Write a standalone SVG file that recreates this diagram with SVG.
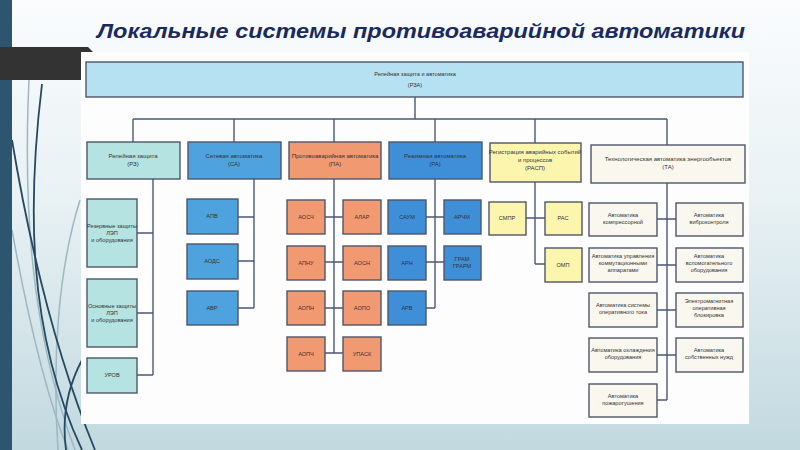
<svg xmlns="http://www.w3.org/2000/svg" width="800" height="450" viewBox="0 0 800 450">
<defs>
<linearGradient id="bg" x1="0" y1="0" x2="0" y2="1">
<stop offset="0" stop-color="#fafcfd"/>
<stop offset="0.45" stop-color="#e8f1f4"/>
<stop offset="1" stop-color="#c2d9e0"/>
</linearGradient>
<style>
.box{stroke:#4d566a;stroke-width:1.4}
.top{fill:#b6e1f2}
.rz{fill:#b4e3e2}
.sa{fill:#4ea2dd}
.pa{fill:#f19a72}
.ra{fill:#3f8fd8}
.rasp{fill:#fcf5ae}
.ta{fill:#faf7ef}
.t{font-family:"Liberation Sans",Arial,sans-serif;font-size:5.6px;fill:#333;text-anchor:middle}
.th{font-family:"Liberation Sans",Arial,sans-serif;font-size:6px;fill:#333;text-anchor:middle}
.con{fill:none;stroke:#4a5878;stroke-width:1.4}
.deco{fill:none;stroke:#244a63;stroke-width:1.8}
.decol{fill:none;stroke:#9db7c3;stroke-width:1.5}
</style>
</defs>
<rect x="0" y="0" width="800" height="450" fill="url(#bg)"/>
<g id="decoration">
<path class="decol" d="M12,230 C30,330 48,400 68,450"/>
<path class="decol" d="M80,200 C58,270 52,360 58,450"/>
<path class="decol" d="M30,60 C22,200 30,330 75,450"/>
<path class="deco" d="M12,140 C32,260 58,360 95,450"/>
<path class="deco" d="M42,84 C28,200 26,330 82,450" stroke-width="1.2"/>
<path class="deco" d="M82,360 C66,390 62,420 66,450"/>
<rect x="0" y="0" width="12" height="450" fill="#2d5570"/>
<path d="M0,47 H88 L93,52 V80 H0 Z" fill="#333333"/>
</g>
<rect x="81" y="52" width="668" height="372" fill="#fdfdfe"/>
<text x="97" y="38" font-family="Liberation Sans,Arial,sans-serif" font-size="21" font-weight="bold" font-style="italic" fill="#1b2a5e" textLength="648" lengthAdjust="spacingAndGlyphs">Локальные системы противоаварийной автоматики</text>
<g id="connectors">
<path class="con" d="M415,97 V119 M133,119 H667 M133,119 V142 M234,119 V142 M334,119 V142 M435,119 V142 M535,119 V143 M667,119 V145"/>
<path class="con" d="M153,179 V375 M137,233 H153 M137,313 H153 M137,375 H153"/>
<path class="con" d="M254,179 V308 M238,217 H254 M238,261 H254 M238,308 H254"/>
<path class="con" d="M334,179 V353 M325,217 H343 M325,262 H343 M325,308 H343 M325,353 H343"/>
<path class="con" d="M435,179 V308 M426,217 H444 M426,262 H444 M426,308 H435"/>
<path class="con" d="M535,182 V264 M526,218 H545 M535,264 H545"/>
<path class="con" d="M667,183 V400 M657,219 H676 M657,265 H676 M657,310 H676 M657,355 H676 M657,400 H667"/>
</g>
<g id="rza"><rect class="box top" x="86" y="62" width="657" height="35"/><text class="t" font-size="7" x="415" y="76">Релейная защита и автоматика</text><text class="t" font-size="7" x="415" y="87">(РЗА)</text></g>
<g id="rz"><rect class="box rz" x="87" y="142" width="93" height="37"/><text class="th" x="133" y="158">Релейная защита</text><text class="th" x="133" y="166">(РЗ)</text></g>
<g id="sa"><rect class="box sa" x="188" y="142" width="93" height="37"/><text class="th" x="234" y="158">Сетевая автоматика</text><text class="th" x="234" y="166">(СА)</text></g>
<g id="pa"><rect class="box pa" x="289" y="142" width="92" height="37"/><text class="th" x="335" y="158">Противоаварийная автоматика</text><text class="th" x="335" y="166">(ПА)</text></g>
<g id="ra"><rect class="box ra" x="389" y="142" width="93" height="37"/><text class="th" x="435" y="158">Режимная автоматика</text><text class="th" x="435" y="166">(РА)</text></g>
<g id="rasp"><rect class="box rasp" x="490" y="143" width="91" height="39"/><text class="th" x="535" y="154">Регистрация аварийных событий</text><text class="th" x="535" y="162">и процессов</text><text class="th" x="535" y="170">(РАСП)</text></g>
<g id="ta"><rect class="box ta" x="591" y="145" width="154" height="38"/><text class="th" x="668" y="161">Технологическая автоматика энергообъектов</text><text class="th" x="668" y="169">(ТА)</text></g>
<g id="rz1"><rect class="box rz" x="87" y="199" width="50" height="68"/><text class="t" x="112" y="228">Резервные защиты</text><text class="t" x="112" y="235">ЛЭП</text><text class="t" x="112" y="242">и оборудования</text></g>
<g id="rz2"><rect class="box rz" x="87" y="279" width="50" height="68"/><text class="t" x="112" y="308">Основные защиты</text><text class="t" x="112" y="315">ЛЭП</text><text class="t" x="112" y="322">и оборудования</text></g>
<g id="rz3"><rect class="box rz" x="87" y="358" width="50" height="35"/><text class="t" x="112" y="377">УРОВ</text></g>
<g id="sa1"><rect class="box sa" x="187" y="199" width="51" height="35"/><text class="t" x="212" y="218">АПВ</text></g>
<g id="sa2"><rect class="box sa" x="187" y="244" width="51" height="35"/><text class="t" x="212" y="263">АОДС</text></g>
<g id="sa3"><rect class="box sa" x="187" y="291" width="51" height="34"/><text class="t" x="212" y="310">АВР</text></g>
<g id="pa1"><rect class="box pa" x="287" y="200" width="38" height="34"/><text class="t" x="306" y="219">АОСЧ</text></g>
<g id="pa2"><rect class="box pa" x="343" y="200" width="38" height="34"/><text class="t" x="362" y="219">АЛАР</text></g>
<g id="pa3"><rect class="box pa" x="287" y="246" width="38" height="34"/><text class="t" x="306" y="265">АПНУ</text></g>
<g id="pa4"><rect class="box pa" x="343" y="246" width="38" height="34"/><text class="t" x="362" y="265">АОСН</text></g>
<g id="pa5"><rect class="box pa" x="287" y="291" width="38" height="34"/><text class="t" x="306" y="310">АОПН</text></g>
<g id="pa6"><rect class="box pa" x="343" y="291" width="38" height="34"/><text class="t" x="362" y="310">АОПО</text></g>
<g id="pa7"><rect class="box pa" x="287" y="337" width="38" height="34"/><text class="t" x="306" y="356">АОПЧ</text></g>
<g id="pa8"><rect class="box pa" x="343" y="337" width="38" height="34"/><text class="t" x="362" y="356">УПАСК</text></g>
<g id="ra1"><rect class="box ra" x="388" y="200" width="38" height="34"/><text class="t" x="407" y="219">САУМ</text></g>
<g id="ra2"><rect class="box ra" x="444" y="200" width="37" height="34"/><text class="t" x="462" y="219">АРЧМ</text></g>
<g id="ra3"><rect class="box ra" x="388" y="246" width="38" height="34"/><text class="t" x="407" y="265">АРН</text></g>
<g id="ra4"><rect class="box ra" x="444" y="246" width="37" height="34"/><text class="t" x="462" y="261">ГРАМ</text><text class="t" x="462" y="268">ГРАРМ</text></g>
<g id="ra5"><rect class="box ra" x="388" y="291" width="38" height="34"/><text class="t" x="407" y="310">АРВ</text></g>
<g id="rasp1"><rect class="box rasp" x="489" y="202" width="37" height="33"/><text class="t" x="507" y="220">СМПР</text></g>
<g id="rasp2"><rect class="box rasp" x="545" y="202" width="37" height="33"/><text class="t" x="563" y="220">РАС</text></g>
<g id="rasp3"><rect class="box rasp" x="545" y="248" width="37" height="34"/><text class="t" x="563" y="267">ОМП</text></g>
<g id="ta1"><rect class="box ta" x="589" y="203" width="68" height="33"/><text class="t" x="623" y="217">Автоматика</text><text class="t" x="623" y="224">компрессорной</text></g>
<g id="ta2"><rect class="box ta" x="676" y="203" width="67" height="33"/><text class="t" x="709" y="217">Автоматика</text><text class="t" x="709" y="224">виброконтроля</text></g>
<g id="ta3"><rect class="box ta" x="589" y="248" width="68" height="34"/><text class="t" x="623" y="258">Автоматика управления</text><text class="t" x="623" y="265">коммутационными</text><text class="t" x="623" y="272">аппаратами</text></g>
<g id="ta4"><rect class="box ta" x="676" y="248" width="67" height="34"/><text class="t" x="709" y="258">Автоматика</text><text class="t" x="709" y="265">вспомогательного</text><text class="t" x="709" y="272">оборудования</text></g>
<g id="ta5"><rect class="box ta" x="589" y="293" width="68" height="34"/><text class="t" x="623" y="307">Автоматика системы</text><text class="t" x="623" y="314">оперативного тока</text></g>
<g id="ta6"><rect class="box ta" x="676" y="293" width="67" height="34"/><text class="t" x="709" y="303">Электромагнитная</text><text class="t" x="709" y="310">оперативная</text><text class="t" x="709" y="317">блокировка</text></g>
<g id="ta7"><rect class="box ta" x="589" y="338" width="68" height="34"/><text class="t" x="623" y="352">Автоматика охлаждения</text><text class="t" x="623" y="359">оборудования</text></g>
<g id="ta8"><rect class="box ta" x="676" y="338" width="67" height="34"/><text class="t" x="709" y="352">Автоматика</text><text class="t" x="709" y="359">собственных нужд</text></g>
<g id="ta9"><rect class="box ta" x="589" y="384" width="68" height="33"/><text class="t" x="623" y="398">Автоматика</text><text class="t" x="623" y="405">пожаротушения</text></g>
</svg>
